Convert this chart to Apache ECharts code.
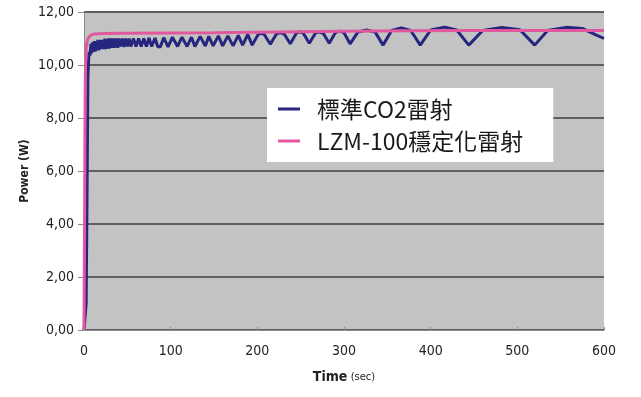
<!DOCTYPE html>
<html>
<head>
<meta charset="utf-8">
<script src="https://cdn.jsdelivr.net/npm/echarts@6/dist/echarts.min.js"></script>
<style>
    html, body { margin: 0; padding: 0; background: #ffffff; }
    #chart { width: 641px; height: 397px; }
</style>
</head>
<body>
<div id="chart"></div>
<script>
const seriesNames = ["標準CO2雷射", "LZM-100穩定化雷射"];
const colors = ["#26267f", "#e2589f"];

// [time (sec), power (W)]
const standardLaser = [
    [0, 0], [2.5, 1], [3.5, 5], [4.5, 9.5], [5.5, 10.3], [6, 10.5], [7, 10.35],
    [8, 10.8], [9, 10.45], [10, 10.85], [11, 10.5], [12, 10.9], [13, 10.5],
    [14, 10.9], [15, 10.55], [16, 10.95], [17, 10.55], [18, 10.95], [19, 10.6],
    [20, 10.95], [21, 10.6], [22, 10.95], [23, 10.6], [24, 11.0], [25, 10.6],
    [26, 10.95], [27, 10.62], [28, 11.0], [29, 10.62], [30, 11.0], [31, 10.65],
    [32, 11.0], [33, 10.65], [34, 11.0], [35, 10.65], [36, 11.0], [37, 10.68],
    [38, 11.0], [39, 10.65], [40, 11.0], [42, 10.7], [44, 11.0], [46, 10.68],
    [48, 11.0], [50, 10.7], [52, 11.0], [54, 10.7], [57, 11.0], [60, 10.7],
    [63, 11.0], [66, 10.7], [69, 11.0], [72, 10.7], [75, 11.02], [78, 10.7],
    [82, 11.02], [85, 10.7], [88, 10.68], [92, 11.03], [97, 10.68], [102, 11.05],
    [108, 10.7], [113, 11.05], [119, 10.7], [124, 11.05], [128, 10.7],
    [134, 11.08], [140, 10.72], [144, 11.08], [149, 10.72], [155, 11.1],
    [160, 10.72], [166, 11.1], [172, 10.72], [178, 11.12], [183, 10.75],
    [189, 11.15], [194, 10.75], [201, 11.15], [204, 11.2], [208, 11.15],
    [215, 10.78], [222, 11.17], [226, 11.22], [231, 11.17], [238, 10.8],
    [245, 11.2], [249, 11.25], [253, 11.2], [260, 10.82], [267, 11.2],
    [271, 11.25], [276, 11.2], [283, 10.82], [290, 11.22], [295, 11.28],
    [300, 11.22], [307, 10.8], [316, 11.24], [326, 11.32], [336, 11.24],
    [345, 10.75], [355, 11.3], [366, 11.4], [377, 11.3], [388, 10.75],
    [400, 11.32], [416, 11.43], [430, 11.32], [444, 10.75], [460, 11.3],
    [482, 11.42], [503, 11.33], [520, 10.75], [535, 11.3], [556, 11.42],
    [575, 11.38], [590, 11.15], [600, 11.0]
];

const stabilizedLaser = [
    [0, 0], [0.8, 5], [1.5, 9.5], [2.5, 10.6], [4, 10.95], [7, 11.1], [12, 11.17],
    [50, 11.2], [150, 11.22], [300, 11.27], [450, 11.3], [600, 11.3]
];

const xTicks = { min: 0, max: 600, interval: 100 };
const yTicks = { min: 0, max: 12, interval: 2 };

let chartDom = document.getElementById("chart");
let myChart = echarts.init(chartDom);

const labelFont = "'DejaVu Sans Condensed', 'Liberation Sans Narrow', sans-serif";

let option = {
    animation: false,
    color: colors,
    grid: {
        left: 84,
        right: 37,
        top: 12,
        bottom: 67,
        show: true,
        backgroundColor: "#c3c3c3",
        borderWidth: 0,
    },
    legend: {
        orient: "vertical",
        left: 267,
        top: 88,
        backgroundColor: "#ffffff",
        padding: [8, 30, 8, 11],
        itemGap: 6,
        itemWidth: 22,
        itemHeight: 3,
        icon: "rect",
        data: seriesNames,
        textStyle: {
            fontFamily: "'Noto Sans CJK TC', sans-serif",
            fontSize: 23,
            color: "#1a1a1a",
            padding: [0, 0, 0, 12],
            lineHeight: 26,
        },
    },
    xAxis: {
        type: "value",
        ...xTicks,
        name: "{b|Time} {s|(sec)}",
        nameLocation: "middle",
        nameGap: 40,
        nameMoveOverlap: false,
        nameTextStyle: {
            rich: {
                b: { fontFamily: labelFont, fontSize: 14, fontWeight: "bold", color: "#222" },
                s: { fontFamily: labelFont, fontSize: 11, color: "#222" },
            },
        },
        axisLine: { show: true, lineStyle: { color: "#8a8a8a", width: 1 } },
        axisTick: { show: true, inside: true, length: 3, lineStyle: { color: "#8a8a8a" } },
        axisLabel: { fontFamily: labelFont, fontSize: 14, color: "#222", margin: 14 },
        splitLine: { show: false },
    },
    yAxis: {
        type: "value",
        ...yTicks,
        name: "Power (W)",
        nameLocation: "middle",
        nameRotate: 90,
        nameGap: 53,
        nameMoveOverlap: false,
        nameTextStyle: { fontFamily: labelFont, fontSize: 12, fontWeight: "bold", color: "#222" },
        axisLine: { show: true, lineStyle: { color: "#8a8a8a", width: 1 } },
        axisTick: { show: true, length: 6, lineStyle: { color: "#8a8a8a" } },
        axisLabel: {
            fontFamily: labelFont,
            fontSize: 14,
            color: "#222",
            margin: 10,
            formatter: (v) => v.toFixed(2).replace(".", ","),
        },
        splitLine: { show: true, lineStyle: { color: "#5f5f5f", width: 2 } },
    },
    series: [
        {
            name: seriesNames[0],
            type: "line",
            data: standardLaser,
            showSymbol: false,
            lineStyle: { width: 3, color: colors[0] },
        },
        {
            name: seriesNames[1],
            type: "line",
            data: stabilizedLaser,
            showSymbol: false,
            smooth: 0.3,
            lineStyle: { width: 3, color: colors[1] },
        },
    ],
};

option && myChart.setOption(option);
</script>
</body>
</html>
